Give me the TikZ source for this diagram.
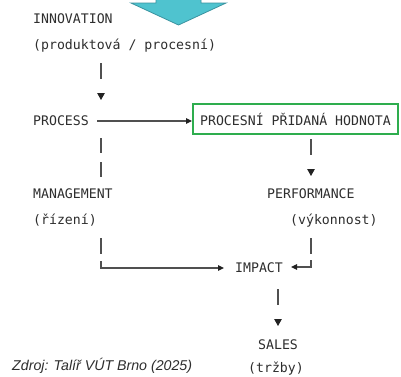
\documentclass[tikz,border=0pt]{standalone}
\usepackage{fontspec}
\setmonofont{DejaVu Sans Mono}
\newfontfamily\notefont{Liberation Sans}
\usetikzlibrary{arrows.meta}
\definecolor{txt}{HTML}{2E2E2E}
\definecolor{ln}{HTML}{505050}
\definecolor{tipc}{HTML}{222222}
\definecolor{grn}{HTML}{2EAD4E}
\definecolor{cyanfill}{HTML}{4FC3CF}
\definecolor{cyanline}{HTML}{3A93A0}
\tikzset{
  lbl/.style={font=\ttfamily\fontsize{13.2}{13.2}\selectfont, text=txt, inner sep=0pt, anchor=west, text height=9.5pt, text depth=0pt},
  hbox/.style={draw=grn, line width=2pt, font=\ttfamily\fontsize{13.2}{13.2}\selectfont, text=txt, minimum width=205pt, minimum height=30pt, inner sep=0pt},
  conn/.style={draw=ln, line width=1.1pt},
  tipdown/.style={-{Triangle[width=7.5pt,length=7pt,color=tipc]}},
  tipside/.style={-{Triangle[width=5.5pt,length=6pt,color=tipc]}},
  note/.style={font=\notefont\itshape\fontsize{14.2}{14.2}\selectfont, text=txt, inner sep=0pt, anchor=west},
}
\begin{document}
\begin{tikzpicture}[x=1pt,y=-1pt]
\useasboundingbox (0,0) rectangle (401,376);
\clip (0,0) rectangle (401,376);
\fill[white] (0,0) rectangle (401,376);
% top arrow
\filldraw[fill=cyanfill, draw=cyanline, line width=0.8pt, line join=miter]
  (156,-5) -- (156,3) -- (131,3) -- (178.5,25) -- (226,3) -- (201,3) -- (201,-5) -- cycle;
% text nodes
\node[lbl] (innov) at (33,19) {INNOVATION};
\node[lbl] (innovp) at (33,45) {(produktová / procesní)};
\node[lbl] (process) at (33,121) {PROCESS};
\node[hbox] (pph) at (295.5,119) {PROCESNÍ PŘIDANÁ HODNOTA};
\node[lbl] (mgmt) at (33,194) {MANAGEMENT};
\node[lbl] (mgmtp) at (33,220) {(řízení)};
\node[lbl] (perf) at (267,194) {PERFORMANCE};
\node[lbl] (perfp) at (290,220) {(výkonnost)};
\node[lbl] (impact) at (235,268) {IMPACT};
\node[lbl] (sales) at (258,345) {SALES};
\node[lbl] (salesp) at (248,368) {(tržby)};
\node[note] (src) at (12,366) {Zdroj: Talíř VÚT Brno (2025)};
% connector end points
\coordinate (a1) at (101,63);  \coordinate (a2) at (101,100);
\coordinate (c1) at (311,139); \coordinate (c2) at (311,176);
\coordinate (d1) at (101,138); \coordinate (d2) at (101,178);
\coordinate (e1) at (101,238); \coordinate (e2) at (224,268);
\coordinate (f1) at (311,238); \coordinate (f2) at (291,267);
\coordinate (g1) at (278,289); \coordinate (g2) at (278,326);
\coordinate (b1) at (97,121);
% connectors
\draw[conn, tipdown, dash pattern=on 16pt off 100pt] (a1) -- (a2);
\draw[conn, tipside] (b1) -- (pph.west |- b1);
\draw[conn, tipdown, dash pattern=on 16pt off 100pt] (c1) -- (c2);
\draw[conn, dash pattern=on 15pt off 9pt] (d1) -- (d2);
\draw[conn, tipside, dash pattern=on 16pt off 7pt on 400pt] (e1) |- (e2);
\draw[conn, tipside, dash pattern=on 16pt off 6pt on 400pt] (f1) |- (f2);
\draw[conn, tipdown, dash pattern=on 16pt off 100pt] (g1) -- (g2);
\end{tikzpicture}
\end{document}
